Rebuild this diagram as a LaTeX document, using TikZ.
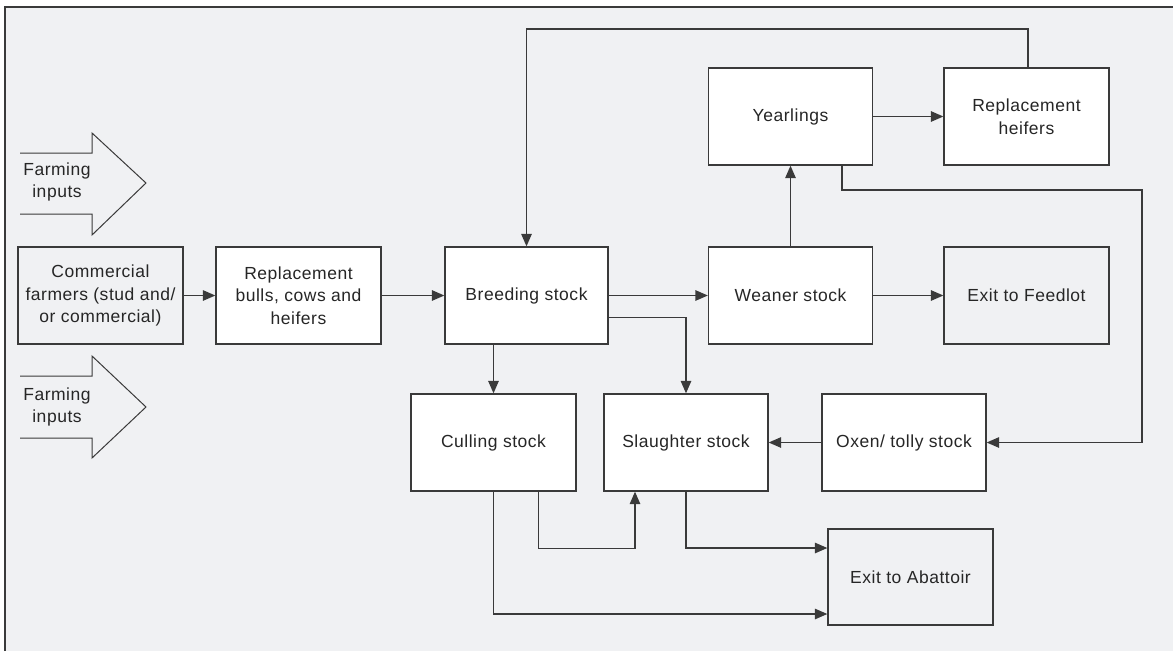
\documentclass[tikz,border=0pt]{standalone}
\usepackage{fontspec}
\setmainfont{Liberation Sans}[LetterSpace=3]
\usetikzlibrary{arrows.meta}
\definecolor{bgc}{HTML}{F0F1F3}
\definecolor{linec}{HTML}{3A3A3A}
\definecolor{txtc}{HTML}{262626}
\tikzset{
  box/.style={draw=linec, line width=1.3pt, fill=white, minimum width=164pt, minimum height=97pt,
    inner sep=2pt, align=center, text=txtc, font=\fontsize{17.5}{22.5}\selectfont},
  greybox/.style={box, fill=bgc},
  arr/.style={draw=linec, line width=1.3pt, -{Triangle[length=12.5pt,width=10.5pt]}},
  conn/.style={draw=linec, line width=1.3pt},
  lbl/.style={align=center, text=txtc, font=\fontsize{17.5}{22.5}\selectfont, inner sep=0pt}
}
\begin{document}
\begin{tikzpicture}[x=1pt,y=-1pt]
\useasboundingbox (0,0) rectangle (1173,651);
\fill[bgc] (5,7) rectangle (1173,651);
\draw[linec, line width=2pt] (5,651) -- (5,7) -- (1173,7);

% farming input arrows
\draw[conn, line width=1pt, fill=bgc] (20,153) -- (92,153) -- (92,133) -- (146,183) -- (92,235) -- (92,214) -- (20,214);
\node[lbl] (fi1) at (57,182) {Farming\\inputs};
\draw[conn, line width=1pt, fill=bgc] (20,376) -- (92,376) -- (92,356) -- (146,407) -- (92,458) -- (92,438) -- (20,438);
\node[lbl] (fi2) at (57,407) {Farming\\inputs};

% boxes
\node[greybox, minimum width=165pt] (comm) at (100.5,295.5) {Commercial\\farmers (stud and/\\or commercial)};
\node[box, minimum width=165pt] (repl) at (298.5,295.5) {Replacement\\bulls, cows and\\heifers};
\node[box, minimum width=163pt] (breed) at (526.5,295.5) {Breeding stock};
\node[box] (wean) at (790.5,295.5) {Weaner stock};
\node[greybox, minimum width=165pt] (feed) at (1026.5,295.5) {Exit to Feedlot};
\node[box] (year) at (790.5,116.5) {Yearlings};
\node[box, minimum width=165pt] (heif) at (1026.5,116.5) {Replacement\\heifers};
\node[box, minimum width=165pt] (cull) at (493.5,442.5) {Culling stock};
\node[box] (slau) at (686,442.5) {Slaughter stock};
\node[box] (oxen) at (904,442.5) {Oxen/ tolly stock};
\node[greybox, minimum width=165pt, minimum height=96pt] (abat) at (910.5,577) {Exit to Abattoir};

\coordinate (topy) at (0,29);
\coordinate (rx) at (1142,190);

% connectors
\draw[arr] (comm.east) -- (repl.west);
\draw[arr] (repl.east) -- (breed.west);
\draw[arr] (breed.east) -- (wean.west);
\draw[arr] (wean.east) -- (feed.west);
\draw[arr] ([yshift=-22pt]breed.east) -| (slau.north);
\draw[arr] (cull.north |- breed.south) -- (cull.north);
\draw[arr] ([xshift=1.5pt]heif.north) |- (breed.north |- topy) -- (breed.north);
\draw[arr] (wean.north) -- (year.south);
\draw[arr] (year.east) -- (heif.west);
\draw[arr] ([xshift=51.5pt]year.south) |- (rx) |- (oxen.east);
\draw[arr] (oxen.west) -- (slau.east);
\draw[arr] ([xshift=45pt]cull.south) -- ++(0,57) -| ([xshift=-51pt]slau.south);
\draw[arr] (cull.south) |- ([yshift=-37pt]abat.west);
\draw[arr] (slau.south) |- ([yshift=29pt]abat.west);
\end{tikzpicture}
\end{document}
